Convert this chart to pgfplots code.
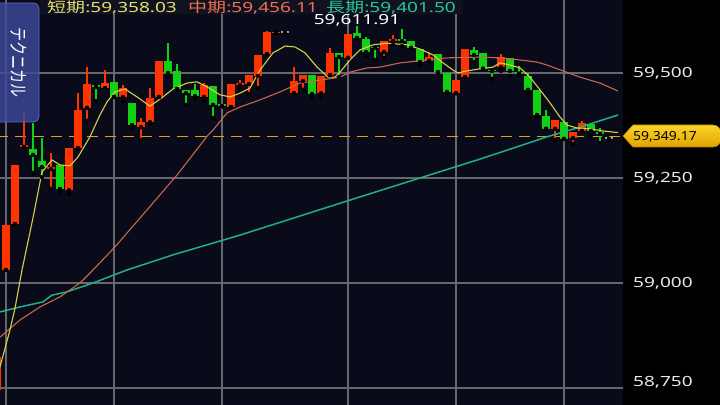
\documentclass[border=0pt]{standalone}
\usepackage{graphicx}
\usepackage{pgfplots}
\pgfplotsset{compat=1.18}
\usepackage{pgfplotstable}
\usepackage{fontspec}
\setmainfont{Noto Sans}
\newfontfamily\jp{Noto Sans CJK JP}
\definecolor{bgnavy}{RGB}{10,11,26}
\definecolor{gridc}{RGB}{104,104,108}
\definecolor{cred}{RGB}{255,51,0}
\definecolor{cgreen}{RGB}{18,208,18}
\definecolor{cgray}{RGB}{160,160,165}
\definecolor{ma1}{RGB}{214,208,70}
\definecolor{ma2}{RGB}{198,102,76}
\definecolor{ma3}{RGB}{30,178,128}
\definecolor{dashc}{RGB}{224,160,16}
\definecolor{tickc}{RGB}{232,232,232}
\definecolor{l1}{RGB}{230,222,110}
\definecolor{l2}{RGB}{240,112,80}
\definecolor{l3}{RGB}{40,200,150}
\definecolor{bandc}{RGB}{16,18,32}
\definecolor{btn}{RGB}{60,74,152}
\definecolor{btnedge}{RGB}{92,106,190}
\definecolor{tagtop}{RGB}{250,212,40}
\definecolor{tagbot}{RGB}{226,164,0}
\definecolor{tagedge}{RGB}{190,130,0}
\newcommand\sx[1]{\scalebox{1.36}[1]{#1}}
\newcommand\fs{\fontsize{14bp}{14bp}\selectfont}

\pgfplotstableread{
x o h l c
-1 58745 58829 58740 58824
0 59031 59138 59031 59138
1 59140 59281 59140 59281
2 59324 59407 59324 59329
5 59271 59310 59224 59276
7 59221 59321 59212 59321
8 59321 59452 59321 59412
9 59417 59514 59386 59474
11 59464 59507 59464 59476
13 59443 59471 59433 59464
15 59371 59393 59340 59383
16 59383 59464 59379 59440
17 59443 59529 59443 59529
22 59443 59476 59433 59471
25 59419 59474 59419 59474
26 59471 59483 59462 59476
27 59474 59495 59450 59495
28 59493 59543 59464 59543
29 59545 59600 59545 59598
30 59595 59598 59595 59598
32 59452 59514 59452 59481
33 59481 59495 59460 59495
35 59452 59493 59443 59493
36 59495 59560 59495 59548
38 59536 59593 59536 59593
42 59550 59576 59536 59576
43 59576 59591 59567 59581
47 59529 59550 59529 59538
50 59452 59483 59452 59483
51 59490 59557 59490 59557
55 59514 59545 59505 59538
61 59367 59388 59340 59388
63 59345 59360 59331 59360
64 59362 59386 59362 59381
}\redtab

\pgfplotstableread{
x o h l c
3 59319 59381 59262 59305
4 59290 59345 59252 59276
6 59281 59281 59219 59224
10 59471 59471 59433 59467
12 59479 59479 59443 59443
14 59429 59429 59371 59376
18 59529 59571 59490 59500
19 59505 59521 59462 59462
20 59460 59460 59424 59452
21 59460 59474 59438 59445
23 59469 59469 59393 59424
24 59426 59426 59421 59421
34 59495 59495 59443 59450
37 59548 59548 59490 59538
39 59595 59612 59583 59583
40 59581 59586 59540 59550
41 59562 59562 59531 59560
44 59581 59605 59564 59576
45 59576 59576 59560 59560
46 59557 59557 59519 59526
48 59545 59545 59502 59502
49 59500 59500 59452 59455
52 59555 59562 59526 59543
53 59548 59548 59510 59510
54 59507 59507 59486 59505
56 59536 59536 59493 59505
57 59502 59517 59498 59498
58 59493 59500 59452 59460
59 59460 59460 59393 59400
60 59398 59412 59367 59367
62 59383 59383 59343 59343
65 59379 59379 59352 59362
66 59360 59369 59333 59355
}\greentab

\pgfplotstableread{
x o c
31 59596 59599
67 59343 59347
}\graytab

\begin{document}
\begin{tikzpicture}
\path[use as bounding box] (0,0) rectangle (720bp,405bp);
\fill[black] (0,0) rectangle (720bp,405bp);
\begin{axis}[
  at={(0,0)}, anchor=south west,
  scale only axis, width=623bp, height=405bp,
  xmin=-0.6667, xmax=68.5556, ymin=58709.5, ymax=59673.8,
  axis background/.style={fill=bgnavy},
  axis line style={draw=none},
  major tick length=0pt,
  xtick={0,12,24,38,50,62}, xticklabels={},
  ytick={58750,59000,59250,59500},
  yticklabels={{},\sx{59,000},\sx{59,250},\sx{59,500}},
  yticklabel pos=right,
  yticklabel style={anchor=west, inner sep=0pt, xshift=10bp, text=tickc, font=\fs},
  grid=major,
  major grid style={draw=gridc, line width=1.2bp},
  clip=true,
]
% last price dashed line
\addplot[dashc, line width=1.3bp, dash pattern=on 11bp off 7bp] coordinates {(-1,59349.17) (69,59349.17)};
% wicks
\addplot[only marks, mark=none, error bars/.cd, y dir=plus, y explicit, error mark=none,
  error bar style={draw=cred, line width=1.3bp}]
  table[x=x, y=l, y error expr=\thisrow{h}-\thisrow{l}] {\redtab};
\addplot[only marks, mark=none, error bars/.cd, y dir=plus, y explicit, error mark=none,
  error bar style={draw=cgreen, line width=1.3bp}]
  table[x=x, y=l, y error expr=\thisrow{h}-\thisrow{l}] {\greentab};
% bodies
\addplot[only marks, mark=none, error bars/.cd, y dir=plus, y explicit, error mark=none,
  error bar style={draw=cred, line width=8bp}]
  table[x=x, y=o, y error expr=\thisrow{c}-\thisrow{o}] {\redtab};
\addplot[only marks, mark=none, error bars/.cd, y dir=plus, y explicit, error mark=none,
  error bar style={draw=cgreen, line width=8bp}]
  table[x=x, y=c, y error expr=\thisrow{o}-\thisrow{c}] {\greentab};
\addplot[only marks, mark=none, error bars/.cd, y dir=plus, y explicit, error mark=none,
  error bar style={draw=cgray, line width=8bp}]
  table[x=x, y=o, y error expr=\thisrow{c}-\thisrow{o}] {\graytab};
% long MA
\addplot[ma3, line width=1.5bp] coordinates {
(-0.67,58931) (1.56,58943) (4.11,58955) (5.11,58971) (6.78,58979) (9.67,59000) (13.44,59031) (18.56,59067) (26.0,59114) (39.33,59205) (52.67,59295) (56.33,59321) (60.11,59348) (63.78,59371) (68.0,59400)};
% mid MA
\addplot[ma2, line width=1.1bp] coordinates {
(-0.67,58871) (1.56,58912) (3.78,58943) (6.0,58967) (8.22,59000) (9.67,59031) (12.11,59086) (15.67,59174) (19.0,59257) (22.44,59352) (23.0,59364) (24.56,59405) (26.0,59419) (28.22,59436) (30.44,59455) (32.67,59476) (34.89,59483) (37.11,59490) (38.22,59502) (40.11,59512) (41.56,59514) (43.78,59524) (46.78,59531) (49.0,59536) (52.67,59538) (54.89,59536) (57.11,59531) (59.0,59526) (60.11,59519) (61.89,59505) (63.78,59490) (66.0,59476) (68.0,59457)};
% short MA
\addplot[ma1, line width=1.1bp] coordinates {
(-0.67,58800) (0.44,58888) (1.0,58940) (1.78,59031) (3.0,59155) (4.0,59264) (5.11,59293) (6.0,59281) (7.11,59279) (8.0,59300) (9.33,59348) (10.44,59400) (11.22,59431) (12.11,59455) (13.22,59462) (14.56,59443) (16.0,59421) (17.44,59443) (18.56,59462) (20.11,59476) (21.22,59479) (22.33,59467) (23.78,59448) (24.89,59443) (26.0,59452) (27.11,59464) (28.22,59507) (29.67,59548) (31.0,59564) (32.11,59562) (33.22,59548) (34.56,59514) (35.78,59490) (36.56,59490) (37.11,59502) (38.22,59531) (39.33,59555) (40.78,59567) (42.33,59571) (44.56,59567) (46.0,59557) (47.44,59543) (48.56,59524) (49.67,59507) (50.22,59500) (51.22,59505) (52.67,59510) (54.11,59514) (54.89,59524) (56.0,59519) (57.11,59512) (58.22,59490) (59.33,59460) (60.44,59429) (61.56,59395) (62.33,59376) (63.44,59369) (64.89,59367) (66.33,59362) (68.0,59358)};
% max label
\node[anchor=base, inner sep=0pt, text=white, font=\fs] at (axis cs:39,59612) [yshift=1.5bp] {\sx{59,611.91}};
\end{axis}
% lowest tick label, lifted to stay inside the picture
\node[anchor=west, inner sep=0pt, text=tickc, font=\fs] at (633bp,23bp) {\sx{58,750}};
% legend band and texts
\fill[bandc] (40bp,391bp) rectangle (463bp,405bp);
\node[anchor=base west, inner sep=0pt, text=l1, font=\fs] at (47bp,392.3bp) {\sx{{\jp 短期}:59,358.03}};
\node[anchor=base west, inner sep=0pt, text=l2, font=\fs] at (188bp,392.3bp) {\sx{{\jp 中期}:59,456.11}};
\node[anchor=base west, inner sep=0pt, text=l3, font=\fs] at (326bp,392.3bp) {\sx{{\jp 長期}:59,401.50}};
% button
\fill[btn, fill opacity=0.82, rounded corners=6bp] (-10bp,283bp) rectangle (39bp,402bp);
\draw[btnedge, line width=0.8bp, rounded corners=6bp] (-10bp,283bp) rectangle (39bp,402bp);
\node[inner sep=0pt, text=white] at (19bp,342bp) {\sx{\rotatebox{-90}{\jp\fs テクニカル}}};
% last price tag
\shade[top color=tagtop, bottom color=tagbot, draw=tagedge, line width=0.6bp]
  (623bp,269bp) -- (633bp,280bp) [rounded corners=8bp] -- (721bp,280bp) -- (721bp,258bp) [sharp corners] -- (633bp,258bp) -- cycle;
\node[anchor=base west, inner sep=0pt, text=black] at (633bp,264bp) {\fontsize{12.5bp}{12.5bp}\selectfont\scalebox{1.12}[1]{59,349.17}};
\end{tikzpicture}
\end{document}
